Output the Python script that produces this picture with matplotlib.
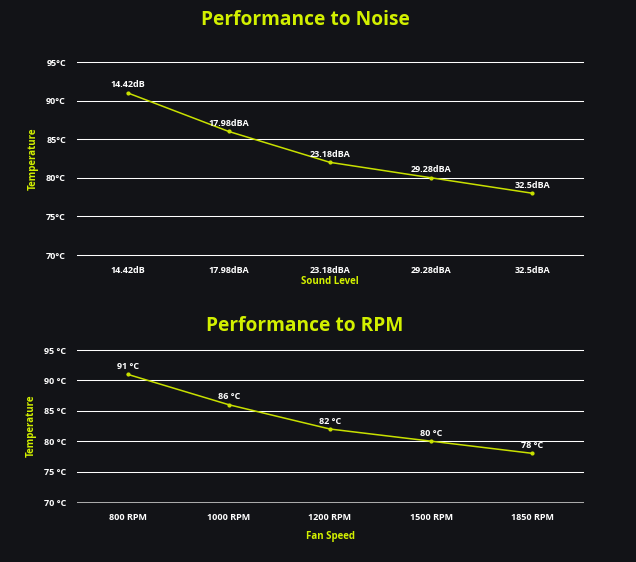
import matplotlib
matplotlib.use("Agg")
import matplotlib.pyplot as plt

sound_levels = ["14.42dB", "17.98dBA", "23.18dBA", "29.28dBA", "32.5dBA"]
fan_speeds = ["800 RPM", "1000 RPM", "1200 RPM", "1500 RPM", "1850 RPM"]
temps = [91, 86, 82, 80, 78]
temp_labels = ["91 °C", "86 °C", "82 °C", "80 °C", "78 °C"]
yticks = [70, 75, 80, 85, 90, 95]
yticks_top = ["70°C", "75°C", "80°C", "85°C", "90°C", "95°C"]
yticks_bot = ["70 °C", "75 °C", "80 °C", "85 °C", "90 °C", "95 °C"]

BG = "#121317"
ACC = "#d2f000"
LINE = "#c8e000"
plt.rcParams['font.family'] = ['Open Sans', 'DejaVu Sans']

W, H = 636, 562
fig = plt.figure(figsize=(W/100, H/100), dpi=100, facecolor=BG)

def px_axes(x0, y0, x1, y1):
    return fig.add_axes([x0/W, (H-y1)/H, (x1-x0)/W, (y1-y0)/H])

def draw(ax, cats, pt_labels, ylabels, title, xlabel, title_y, xlabel_y, bottom_gray):
    ax.set_facecolor(BG)
    x = list(range(len(cats)))
    ax.set_xlim(-0.5, len(cats)-0.5)
    ax.set_ylim(70, 95)
    for v in yticks:
        ax.axhline(v, color="#ffffff" if (v != 70 or not bottom_gray) else "#aaaaaa",
                   lw=0.75, zorder=1, clip_on=False)
    ax.plot(x, temps, color=LINE, lw=1.1, marker='o', ms=2.0, zorder=3)
    for xi, t, lab in zip(x, temps, pt_labels):
        ax.annotate(lab, (xi, t), xytext=(0, 2.5), textcoords='offset points', ha='center', va='bottom',
                    color='white', fontsize=6.5, fontweight='bold')
    ax.set_xticks(x)
    ax.set_xticklabels(cats, color='white', fontsize=6.5, fontweight='bold')
    ax.set_yticks(yticks)
    ax.set_yticklabels(ylabels, color='white', fontsize=6.5, fontweight='bold')
    ax.tick_params(length=0, pad=8)
    for s in ax.spines.values():
        s.set_visible(False)
    ax.set_ylabel("Temperature", color=ACC, fontsize=7, fontweight='bold', labelpad=5)
    fig.text(305/W, 1 - title_y/H, title, color=ACC, fontsize=13.8, fontweight='bold', ha='center', va='center')
    fig.text(330/W, 1 - xlabel_y/H, xlabel, color=ACC, fontsize=7, fontweight='bold', ha='center', va='center')

ax1 = px_axes(77, 62, 583, 255)
draw(ax1, sound_levels, sound_levels, yticks_top, "Performance to Noise", "Sound Level", 20, 282, False)
ax2 = px_axes(77, 350, 583, 502)
draw(ax2, fan_speeds, temp_labels, yticks_bot, "Performance to RPM", "Fan Speed", 326, 536, True)

fig.savefig("out.png", dpi=100, facecolor=BG)
